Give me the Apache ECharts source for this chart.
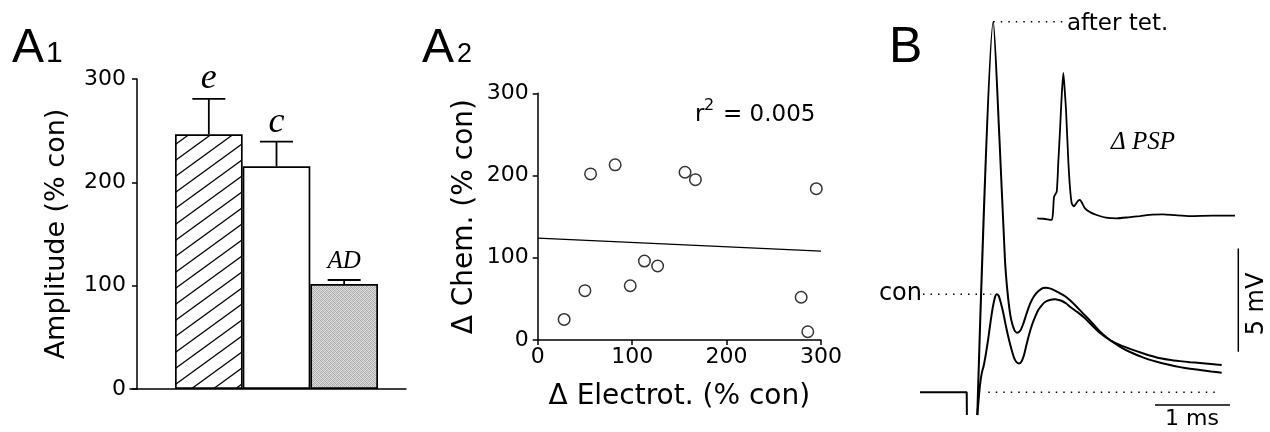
<!DOCTYPE html>
<html><head><meta charset="utf-8">
<script src="https://cdn.jsdelivr.net/npm/echarts@6/dist/echarts.min.js"></script>
<style>html,body{margin:0;padding:0;background:#fff}#c{width:1270px;height:432px}</style>
</head><body><div id="c"></div>
<script>
// ---------- Panel A1 : amplitude bars ----------
const a1Categories = ['e', 'c', 'AD'];
const a1Means = [246.5, 215.5, 101.6];
const a1ErrTop = [280.7, 239.4, 105.5];
const a1Ticks = [0, 100, 200, 300];
const a1YName = 'Amplitude (% con)';

// ---------- Panel A2 : scatter ----------
const a2ElectrotX = [28, 50, 56, 82, 98, 113, 127, 156, 167, 279, 286, 295];
const a2ChemY    = [25, 60, 202, 213, 66, 96, 90, 204, 195, 52, 10, 184];
const a2FitX = [0, 300];
const a2FitY = [124, 108];
const a2Ticks = [0, 100, 200, 300];
const a2R2 = '0.005';
const a2XName = '\u0394 Electrot. (% con)';
const a2YName = '\u0394 Chem. (% con)';

// ---------- Panel B : traces (ms, mV rel. baseline) ----------
const bStimT = [0.2, 0.823, 0.825];
const bStimV = [0, 0, -1.1];
const bAfterT = [0.964, 1.177, 1.26, 1.333, 1.36, 1.39, 1.42, 1.46, 1.497, 1.54, 1.58, 1.62, 1.67, 1.72, 1.78, 1.84, 1.88, 1.93, 2.0, 2.067, 2.13, 2.2, 2.289, 2.36, 2.44, 2.52, 2.60, 2.733, 2.87, 3.0, 3.18, 3.356, 3.52, 3.667, 3.8, 3.933, 4.08, 4.223];
const bAfterV = [-1.1, 17.93, 12.21, 6.40, 5.1, 4.1, 3.45, 3.0, 2.88, 3.0, 3.35, 3.8, 4.3, 4.65, 4.9, 5.05, 5.06, 5.03, 4.92, 4.79, 4.66, 4.45, 4.14, 3.87, 3.58, 3.26, 2.95, 2.53, 2.2, 1.95, 1.68, 1.48, 1.33, 1.22, 1.14, 1.08, 1.01, 0.95];
const bConT = [0.964, 1.0, 1.023, 1.05, 1.08, 1.11, 1.14, 1.17, 1.2, 1.223, 1.25, 1.28, 1.31, 1.34, 1.37, 1.40, 1.43, 1.46, 1.49, 1.524, 1.555, 1.585, 1.62, 1.655, 1.693, 1.735, 1.777, 1.82, 1.867, 1.93, 2.0, 2.05, 2.093, 2.15, 2.2, 2.3, 2.4, 2.5, 2.6, 2.733, 2.87, 3.0, 3.18, 3.356, 3.52, 3.667, 3.8, 3.933, 4.08, 4.223];
const bConV = [-1.1, 0.35, 0.92, 1.3, 1.9, 2.6, 3.4, 4.1, 4.6, 4.74, 4.66, 4.3, 3.85, 3.3, 2.8, 2.35, 1.95, 1.62, 1.45, 1.40, 1.5, 1.78, 2.3, 2.8, 3.26, 3.65, 3.98, 4.2, 4.37, 4.47, 4.50, 4.47, 4.42, 4.3, 4.14, 3.88, 3.58, 3.22, 2.87, 2.53, 2.28, 2.10, 1.88, 1.69, 1.58, 1.51, 1.46, 1.42, 1.37, 1.32];
const bPspT = [1.764, 1.85, 1.956, 1.975, 1.987, 2.023, 2.045, 2.067, 2.09, 2.111, 2.13, 2.147, 2.177, 2.2, 2.223, 2.25, 2.267, 2.307, 2.333, 2.367, 2.4, 2.467, 2.556, 2.68, 2.823, 2.98, 3.133, 3.3, 3.444, 3.6, 3.8, 4.1, 4.4];
const bPspV = [8.42, 8.40, 8.34, 8.8, 9.46, 9.71, 11.2, 12.69, 14.4, 15.46, 14.6, 13.66, 11.24, 9.9, 9.15, 9.0, 9.06, 9.26, 9.31, 9.12, 8.90, 8.72, 8.58, 8.45, 8.42, 8.47, 8.53, 8.6, 8.61, 8.57, 8.53, 8.55, 8.55];
const bScaleMV = 5;   // vertical scale bar, mV
const bScaleMS = 1;   // horizontal scale bar, ms
const bLabels = ['after tet.', 'con', '\u0394 PSP', '5 mV', '1 ms'];

const zip = (a, b) => a.map((v, i) => [v, b[i]]);

// ---------- textures ----------
function hatchTexture() {
  const c = document.createElement('canvas');
  c.width = 22; c.height = 16;
  const g = c.getContext('2d');
  g.fillStyle = '#fff'; g.fillRect(0, 0, 22, 16);
  g.strokeStyle = '#000'; g.lineWidth = 1.3;
  for (let k = -1; k <= 1; k++) {
    g.beginPath();
    g.moveTo(-4, 16 + 16 * k + 16 / 22 * 4);
    g.lineTo(26, 16 * k - 16 / 22 * 4);
    g.stroke();
  }
  return c;
}
function greyTexture() {
  const c = document.createElement('canvas');
  c.width = 4; c.height = 4;
  const g = c.getContext('2d');
  const shades = ['#a4a4a4','#d6d6d6','#b8b8b8','#e0e0e0',
                  '#d8d8d8','#aaaaaa','#dcdcdc','#c0c0c0',
                  '#bcbcbc','#e2e2e2','#a8a8a8','#d0d0d0',
                  '#dedede','#b4b4b4','#d4d4d4','#b0b0b0'];
  shades.forEach((s, i) => { g.fillStyle = s; g.fillRect(i % 4, Math.floor(i / 4), 1, 1); });
  return c;
}
const barFills = [
  { image: hatchTexture(), repeat: 'repeat' },
  '#ffffff',
  { image: greyTexture(), repeat: 'repeat' }
];
const labelFonts = ['italic 36px "Liberation Serif"', 'italic 36px "Liberation Serif"', 'italic 25px "Liberation Serif"'];
const labelGaps = [2, 1, 6];

const sans = 'DejaVu Sans';
const axisBase = {
  axisLine: { show: true, lineStyle: { color: '#000', width: 1.5 } },
  axisTick: { show: true, length: 5, lineStyle: { color: '#000', width: 1.5 } },
  axisLabel: { color: '#000', fontFamily: sans, fontSize: 22 },
  splitLine: { show: false }
};

const afterPeakIdx = bAfterV.indexOf(Math.max(...bAfterV));
const conPeakV = Math.max(...bConV);
const traceStyle = { color: '#000', width: 2 };
const dotted = { color: '#000', width: 1.5, type: [1.5, 6] };

const chart = echarts.init(document.getElementById('c'), null, { renderer: 'canvas' });
chart.setOption({
  animation: false,
  backgroundColor: '#fff',
  grid: [
    { left: 130, top: 79, width: 276, height: 310 },
    { left: 175, top: 79, width: 203, height: 310 },
    { left: 537.7, top: 93.3, width: 283.3, height: 246.7 },
    { left: 905, top: 10, width: 345, height: 413.33 }
  ],
  xAxis: [
    { gridIndex: 0, type: 'value', min: 0, max: 1,
      axisLine: { show: true, lineStyle: { color: '#000', width: 1.5 } },
      axisTick: { show: false }, axisLabel: { show: false }, splitLine: { show: false } },
    { gridIndex: 1, type: 'category', data: a1Categories, show: false },
    Object.assign({}, axisBase, { gridIndex: 2, type: 'value', min: a2Ticks[0], max: a2Ticks[a2Ticks.length - 1], interval: 100,
      axisLabel: Object.assign({}, axisBase.axisLabel, { margin: 6 }),
      name: a2XName, nameLocation: 'middle', nameGap: 43,
      nameTextStyle: { color: '#000', fontFamily: sans, fontSize: 28 } }),
    { gridIndex: 3, type: 'value', min: 0, max: 4.6, show: false }
  ],
  yAxis: [
    Object.assign({}, axisBase, { gridIndex: 0, type: 'value', min: a1Ticks[0], max: a1Ticks[a1Ticks.length - 1], interval: 100, offset: -7,
      axisLabel: Object.assign({}, axisBase.axisLabel, { margin: 11 }),
      name: a1YName, nameLocation: 'middle', nameGap: 67,
      nameTextStyle: { color: '#000', fontFamily: sans, fontSize: 27 } }),
    { gridIndex: 1, type: 'value', min: 0, max: 300, show: false },
    Object.assign({}, axisBase, { gridIndex: 2, type: 'value', min: a2Ticks[0], max: a2Ticks[a2Ticks.length - 1], interval: 100,
      axisLabel: Object.assign({}, axisBase.axisLabel, { margin: 9 }),
      name: a2YName, nameLocation: 'middle', nameGap: 59,
      nameTextStyle: { color: '#000', fontFamily: sans, fontSize: 28 } }),
    { gridIndex: 3, type: 'value', min: -1.5, max: 18.5, show: false }
  ],
  series: [
    { type: 'bar', xAxisIndex: 1, yAxisIndex: 1, barWidth: '100%', z: 2,
      data: a1Means.map((m, i) => ({ value: m, itemStyle: { color: barFills[i], borderColor: '#000', borderWidth: 1.7 } })) },
    { type: 'custom', xAxisIndex: 1, yAxisIndex: 1, z: 3,
      data: a1Means.map((m, i) => [i, m, a1ErrTop[i]]),
      renderItem: function (params, api) {
        const i = params.dataIndex;
        const base = api.coord([api.value(0), api.value(1)]);
        const top = api.coord([api.value(0), api.value(2)]);
        const cap = 16.5;
        return { type: 'group', children: [
          { type: 'line', shape: { x1: base[0], y1: base[1], x2: top[0], y2: top[1] }, style: { stroke: '#000', lineWidth: 1.8 } },
          { type: 'line', shape: { x1: top[0] - cap, y1: top[1], x2: top[0] + cap, y2: top[1] }, style: { stroke: '#000', lineWidth: 1.8 } },
          { type: 'text', x: top[0], y: top[1] - labelGaps[i],
            style: { text: a1Categories[i], font: labelFonts[i], fill: '#000', align: 'center', verticalAlign: 'bottom', textAlign: 'center', textVerticalAlign: 'bottom' } }
        ] };
      } },
    { type: 'line', xAxisIndex: 2, yAxisIndex: 2, data: zip(a2FitX, a2FitY), symbol: 'none', z: 2,
      lineStyle: { color: '#000', width: 1.2 } },
    { type: 'scatter', xAxisIndex: 2, yAxisIndex: 2, data: zip(a2ElectrotX, a2ChemY), symbol: 'circle', symbolSize: 11.5, z: 3,
      itemStyle: { color: '#fff', borderColor: '#000', borderWidth: 1.5 } },
    { type: 'line', xAxisIndex: 3, yAxisIndex: 3, data: zip(bStimT, bStimV), symbol: 'none', lineStyle: traceStyle },
    { type: 'line', xAxisIndex: 3, yAxisIndex: 3, data: zip(bAfterT, bAfterV), symbol: 'none', smooth: 0.25, lineStyle: traceStyle },
    { type: 'line', xAxisIndex: 3, yAxisIndex: 3, data: zip(bConT, bConV), symbol: 'none', smooth: 0.25, lineStyle: traceStyle },
    { type: 'line', xAxisIndex: 3, yAxisIndex: 3, data: zip(bPspT, bPspV), symbol: 'none', smooth: 0.2, lineStyle: { color: '#000', width: 1.8 } },
    { type: 'line', xAxisIndex: 3, yAxisIndex: 3, symbol: 'none', lineStyle: dotted,
      data: [[bAfterT[afterPeakIdx], bAfterV[afterPeakIdx]], [2.15, bAfterV[afterPeakIdx]]] },
    { type: 'line', xAxisIndex: 3, yAxisIndex: 3, symbol: 'none', lineStyle: dotted,
      data: [[0.24, conPeakV], [1.15, conPeakV]] },
    { type: 'line', xAxisIndex: 3, yAxisIndex: 3, symbol: 'none', lineStyle: dotted,
      data: [[1.11, 0], [4.18, 0]] },
    { type: 'line', xAxisIndex: 3, yAxisIndex: 3, symbol: 'none', lineStyle: { color: '#000', width: 1.5 },
      data: [[4.444, 1.96], [4.444, 1.96 + bScaleMV]] },
    { type: 'line', xAxisIndex: 3, yAxisIndex: 3, symbol: 'none', lineStyle: { color: '#000', width: 1.5 },
      data: [[3.333, -0.615], [3.333 + bScaleMS, -0.615]] }
  ],
  graphic: [
    { type: 'text', x: 12, y: 49, style: { text: 'A', font: '48px "Liberation Sans"', fill: '#000', verticalAlign: 'middle', textVerticalAlign: 'middle' } },
    { type: 'text', x: 46, y: 54, style: { text: '1', font: '30px "Liberation Sans"', fill: '#000', verticalAlign: 'middle', textVerticalAlign: 'middle' } },
    { type: 'text', x: 422, y: 49, style: { text: 'A', font: '48px "Liberation Sans"', fill: '#000', verticalAlign: 'middle', textVerticalAlign: 'middle' } },
    { type: 'text', x: 457, y: 55, style: { text: '2', font: '27px "Liberation Sans"', fill: '#000', verticalAlign: 'middle', textVerticalAlign: 'middle' } },
    { type: 'text', x: 889, y: 48, style: { text: 'B', font: '50px "Liberation Sans"', fill: '#000', verticalAlign: 'middle', textVerticalAlign: 'middle' } },
    { type: 'text', x: 695, y: 115, style: { text: 'r', font: '23px "DejaVu Sans"', fill: '#000', verticalAlign: 'middle', textVerticalAlign: 'middle' } },
    { type: 'text', x: 704, y: 106, style: { text: '2', font: '16px "DejaVu Sans"', fill: '#000', verticalAlign: 'middle', textVerticalAlign: 'middle' } },
    { type: 'text', x: 723, y: 115, style: { text: '= ' + a2R2, font: '23px "DejaVu Sans"', fill: '#000', verticalAlign: 'middle', textVerticalAlign: 'middle' } },
    { type: 'text', x: 1067, y: 24, style: { text: bLabels[0], font: '23px "DejaVu Sans"', fill: '#000', verticalAlign: 'middle', textVerticalAlign: 'middle' } },
    { type: 'text', x: 922, y: 294, style: { text: bLabels[1], font: '24px "DejaVu Sans"', fill: '#000', align: 'right', textAlign: 'right', verticalAlign: 'middle', textVerticalAlign: 'middle' } },
    { type: 'text', x: 1111, y: 142, style: { text: bLabels[2], font: 'italic 25px "Liberation Serif"', fill: '#000', verticalAlign: 'middle', textVerticalAlign: 'middle' } },
    { type: 'text', x: 1257, y: 304, rotation: Math.PI / 2, style: { text: bLabels[3], font: '24px "DejaVu Sans"', fill: '#000', align: 'center', textAlign: 'center', verticalAlign: 'middle', textVerticalAlign: 'middle' } },
    { type: 'text', x: 1192, y: 419, style: { text: bLabels[4], font: '22px "DejaVu Sans"', fill: '#000', align: 'center', textAlign: 'center', verticalAlign: 'middle', textVerticalAlign: 'middle' } }
  ]
});
</script></body></html>
